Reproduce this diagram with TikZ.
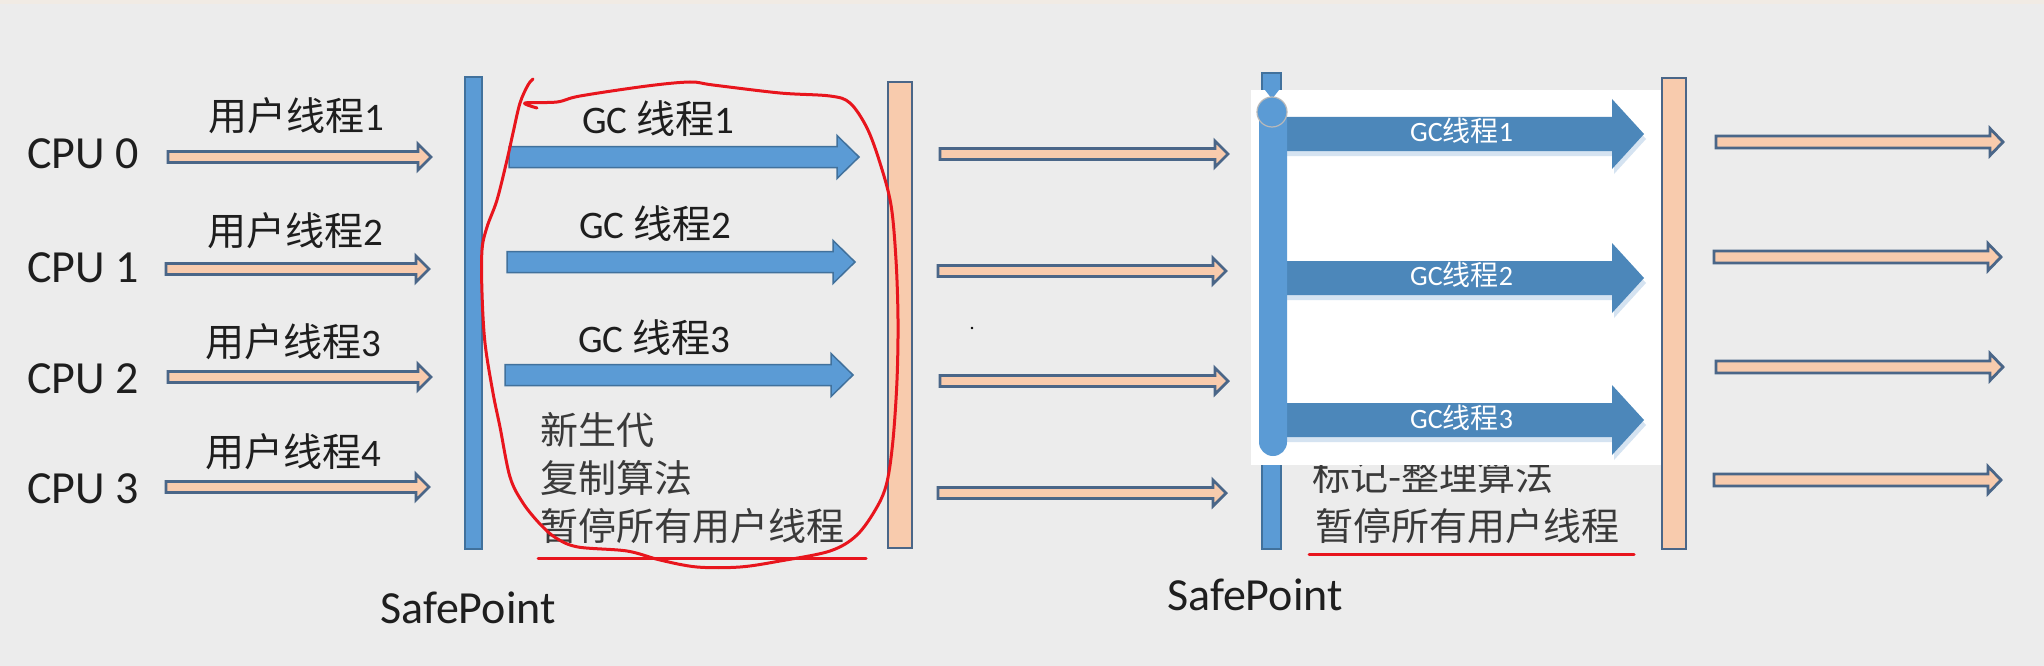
\documentclass[tikz,border=0pt]{standalone}
\usepackage{fontspec}
\setmainfont{Carlito}
\newfontfamily\cjk{Noto Sans CJK SC}
\definecolor{bgc}{HTML}{ECECEC}
\definecolor{topstrip}{HTML}{F1EBE4}
\definecolor{barblue}{HTML}{5B9BD5}
\definecolor{barblueedge}{HTML}{41719C}
\definecolor{peach}{HTML}{F8CBAD}
\definecolor{slate}{HTML}{4A6688}
\definecolor{gcblue}{HTML}{4C87BA}
\definecolor{gcshadow}{HTML}{D5E3F1}
\definecolor{penred}{HTML}{E8151D}
\definecolor{txt}{HTML}{1E1E1E}
\definecolor{txtgray}{HTML}{3A3A3A}
% block arrow: #1 style, #2 x start, #3 x tip, #4 y, #5 shaft half, #6 head half, #7 head length
\newcommand\blkarrow[7]{%
  \filldraw[#1] (#2,#4-#5) -- (#3-#7,#4-#5) -- (#3-#7,#4-#6) -- (#3,#4)
    -- (#3-#7,#4+#6) -- (#3-#7,#4+#5) -- (#2,#4+#5) -- cycle;}
\begin{document}
\begin{tikzpicture}[x=1pt,y=-1pt,
  outarrow/.style={fill=peach,draw=slate,line width=2.8pt,line join=miter},
  gcarrow/.style={fill=barblue,draw=barblueedge,line width=1.5pt},
  gcbig/.style={fill=gcblue,draw=none},
  gcshade/.style={fill=gcshadow,draw=none},
  bluebar/.style={fill=barblue,draw=barblueedge,line width=2pt},
  peachbar/.style={fill=peach,draw=slate,line width=2.8pt},
  cpulabel/.style={anchor=base west,inner sep=0,font=\fontsize{46}{50}\selectfont,text=txt},
  thrlabel/.style={anchor=base west,inner sep=0,font=\fontsize{39}{44}\selectfont,text=txt},
  infolabel/.style={anchor=base west,inner sep=0,font=\fontsize{38}{44}\selectfont\cjk,text=txtgray},
  gclabel/.style={anchor=base west,inner sep=0,font=\fontsize{28}{32}\selectfont,text=white},
  splabel/.style={anchor=base west,inner sep=0,font=\fontsize{46}{50}\selectfont,text=txt},
  redpen/.style={draw=penred,line width=3pt,line cap=round,line join=round}
]
\useasboundingbox (0,0) rectangle (2044,666);
\fill[bgc] (0,0) rectangle (2044,666);
\fill[topstrip] (0,0) rectangle (2044,4);

% ---------- CPU labels ----------
\node[cpulabel] (cpu0) at (27,168) {CPU 0};
\node[cpulabel] (cpu1) at (27,282) {CPU 1};
\node[cpulabel] (cpu2) at (27,393) {CPU 2};
\node[cpulabel] (cpu3) at (27,503) {CPU 3};

% ---------- user thread arrows ----------
\blkarrow{outarrow}{168}{431}{157}{5.5}{13}{13}
\blkarrow{outarrow}{166}{429}{269}{5.5}{13}{13}
\blkarrow{outarrow}{168}{431}{377}{5.5}{13}{13}
\blkarrow{outarrow}{166}{429}{487}{5.5}{13}{13}
\node[thrlabel] (ut1) at (208,131) {{\cjk 用户线程}1};
\node[thrlabel] (ut2) at (207,245) {{\cjk 用户线程}2};
\node[thrlabel] (ut3) at (205,356) {{\cjk 用户线程}3};
\node[thrlabel] (ut4) at (205,466) {{\cjk 用户线程}4};

% ---------- SafePoint 1 ----------
\filldraw[bluebar] (465,77) rectangle (482,549);
\node[splabel] (sp1) at (380,623) {SafePoint};

% ---------- GC threads (young gen) ----------
\blkarrow{gcarrow}{509}{859}{157}{10.5}{21.5}{22}
\blkarrow{gcarrow}{507}{855}{262}{10.5}{21.5}{22}
\blkarrow{gcarrow}{505}{853}{375}{10.5}{21.5}{22}
\node[thrlabel] (gc1) at (582,133) {GC {\cjk 线程}1};
\node[thrlabel] (gc2) at (579,238) {GC {\cjk 线程}2};
\node[thrlabel] (gc3) at (578,352) {GC {\cjk 线程}3};
\node[infolabel] (inf1) at (540,444) {新生代};
\node[infolabel] (inf2) at (540,492) {复制算法};
\node[infolabel] (inf3) at (540,540) {暂停所有用户线程};
\draw[redpen] (538,558) -- (866,558);

% ---------- orange bar 1 ----------
\filldraw[peachbar] (888,82) rectangle (912,548);

% red freehand loop
\draw[redpen] plot[smooth,tension=0.55] coordinates {
 (533,79) (528,85) (520,103) (513,133) (507,160) (497,200) (487,227) (482,250)
 (482,293) (485,343) (493,393) (500,427) (510,477) (523,503) (540,524) (556,538)
 (578,547) (627,551) (660,560) (697,567) (740,567) (780,561) (830,551) (857,535)
 (877,507) (887,482) (893,440) (897,380) (898,320) (896,260) (891,205) (880,163)
 (867,128) (850,103) (830,96) (780,93) (713,85) (690,82) (647,86) (580,96)
 (557,102) (525,103) (537,108)};

% ---------- middle user thread arrows ----------
\blkarrow{outarrow}{940}{1228}{154}{5.5}{13}{13}
\blkarrow{outarrow}{938}{1226}{271}{5.5}{13}{13}
\blkarrow{outarrow}{940}{1228}{381}{5.5}{13}{13}
\blkarrow{outarrow}{938}{1226}{493}{5.5}{13}{13}
\fill[black] (972,328) circle[radius=1.3];

% ---------- SafePoint 2 / old gen ----------
\filldraw[bluebar] (1262,73) rectangle (1281,549);
\node[infolabel] (inf4) at (1312,490) {标记-整理算法};
\node[infolabel] (inf5) at (1315,540) {暂停所有用户线程};
\draw[redpen] (1309,554) -- (1634,554);
\node[splabel] (sp2) at (1167,610) {SafePoint};

\fill[white] (1251,90) rectangle (1661,465);
\fill[barblue] (1265,90) -- (1279,90) -- (1272,99) -- cycle;
% shadows of GC arrows
\begin{scope}[shift={(2,5)}]
\blkarrow{gcshade}{1285}{1644}{134}{17}{35}{32}
\blkarrow{gcshade}{1285}{1644}{278}{17}{35}{32}
\blkarrow{gcshade}{1285}{1644}{420}{17}{35}{32}
\end{scope}
\blkarrow{gcbig}{1280}{1644}{134}{17}{35}{32}
\blkarrow{gcbig}{1280}{1644}{278}{17}{35}{32}
\blkarrow{gcbig}{1280}{1644}{420}{17}{35}{32}
\node[gclabel] (gcb1) at (1410,142) {GC{\cjk 线程}1};
\node[gclabel] (gcb2) at (1410,285) {GC{\cjk 线程}2};
\node[gclabel] (gcb3) at (1410,428) {GC{\cjk 线程}3};
\fill[barblue,rounded corners=14pt] (1259,105) rectangle (1287,456);
\filldraw[fill=barblue,draw=gray!55,line width=1.2pt] (1272,112) circle[radius=15];

% ---------- orange bar 2 ----------
\filldraw[peachbar] (1662,78) rectangle (1686,549);

% ---------- right user thread arrows ----------
\blkarrow{outarrow}{1716}{2003}{142}{6}{13.5}{13}
\blkarrow{outarrow}{1714}{2001}{257}{6}{13.5}{13}
\blkarrow{outarrow}{1716}{2003}{367}{6}{13.5}{13}
\blkarrow{outarrow}{1714}{2001}{480}{6}{13.5}{13}
\end{tikzpicture}
\end{document}
